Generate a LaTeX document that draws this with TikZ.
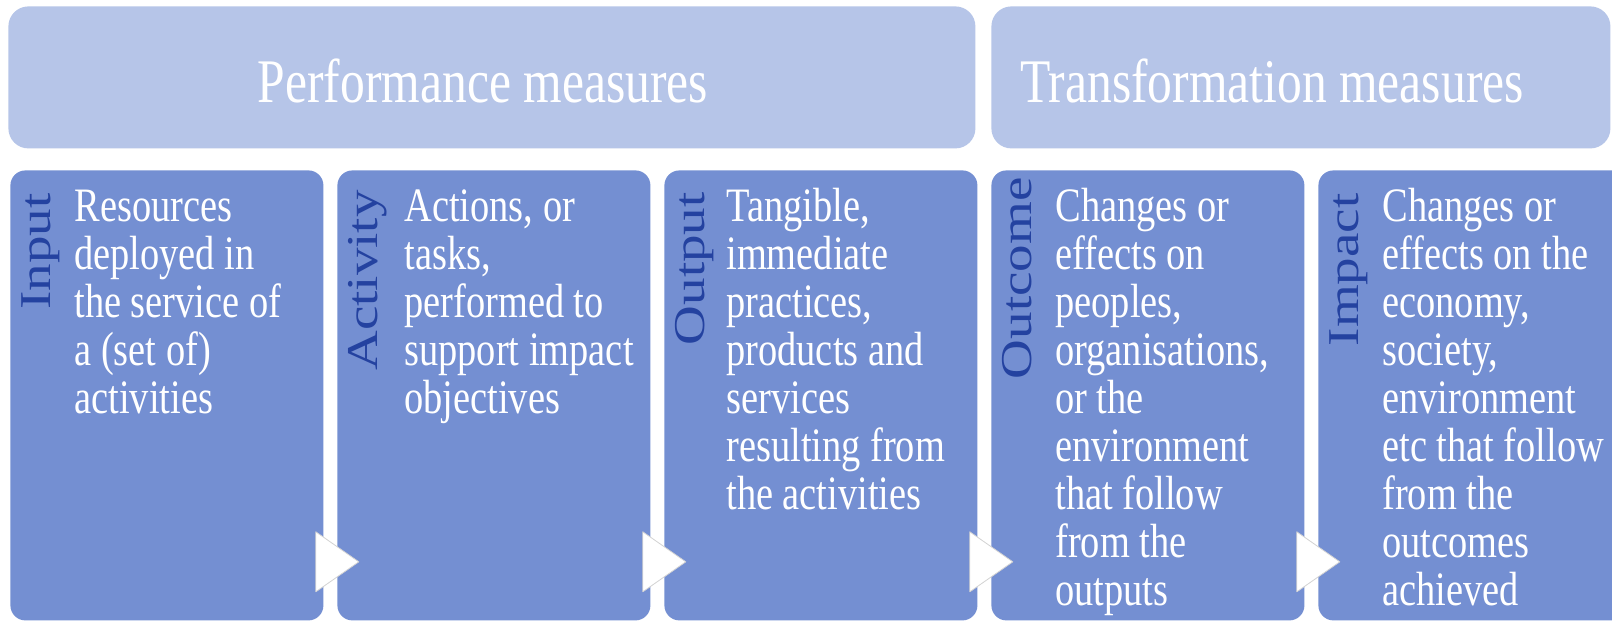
\documentclass[tikz,border=0pt]{standalone}
\usepackage{fontspec}
\setmainfont{Liberation Serif}[FakeStretch=0.8]
\newfontfamily\lblfont{Liberation Serif}
\usetikzlibrary{calc}
\definecolor{hdrfill}{RGB}{182,197,232}
\definecolor{boxfill}{RGB}{116,143,210}
\definecolor{lblblue}{RGB}{36,66,160}
\begin{document}
\begin{tikzpicture}[x=0.5pt,y=-0.5pt,
  hdrbox/.style={fill=hdrfill, rounded corners=10pt, inner sep=0pt, anchor=north west, minimum height=71pt},
  stagebox/.style={fill=boxfill, rounded corners=7.5pt, inner sep=0pt, anchor=north west, minimum width=156.5pt, minimum height=225pt},
  hdrtext/.style={text=white, inner sep=0pt, anchor=base, font=\fontsize{31}{31}\selectfont},
  bodytext/.style={text=white, inner sep=0pt, anchor=base west, font=\fontsize{24}{24}\selectfont},
  lbltext/.style={text=lblblue, inner sep=0pt, rotate=90, anchor=base east, font=\lblfont\fontsize{27.5}{27.5}\selectfont},
  flowtip/.style={fill=white, draw=gray!35, line width=0.4pt, line join=round}
]
\useasboundingbox (0,0) rectangle (1612,623);
\clip (0,0) rectangle (1612,623);
\fill[white] (0,0) rectangle (1612,623);

% header boxes
\node[hdrbox, minimum width=483.5pt] (perf) at (8,6) {};
\node[hdrbox, minimum width=309.5pt] (trans) at (991,6) {};
\node[hdrtext] (perft) at (483,102) {Performance measures};
\node[hdrtext] (transt) at (1272,102) {Transformation measures};

% stage boxes
\node[stagebox] (b1) at (10,170) {};
\node[stagebox] (b2) at (337,170) {};
\node[stagebox] (b3) at (664,170) {};
\node[stagebox] (b4) at (991,170) {};
\node[stagebox] (b5) at (1318,170) {};

% rotated labels
\node[lbltext] (l1) at ($(b1.north west)+(40,23)$) {\scalebox{1}[0.8]{Input}};
\node[lbltext] (l2) at ($(b2.north west)+(40,20)$) {\scalebox{1}[0.8]{Activity}};
\node[lbltext] (l3) at ($(b3.north west)+(40,22)$) {\scalebox{1}[0.8]{Output}};
\node[lbltext] (l4) at ($(b4.north west)+(40,7)$) {\scalebox{1}[0.8]{Outcome}};
\node[lbltext] (l5) at ($(b5.north west)+(40,23)$) {\scalebox{1}[0.8]{Impact}};

% body texts
\node[bodytext] (t1) at ($(b1.north west)+(64,51)$) {\begin{tabular}[t]{@{}l@{}}Resources\\deployed in\\the service of\\a (set of)\\activities\end{tabular}};
\node[bodytext] (t2) at ($(b2.north west)+(67,51)$) {\begin{tabular}[t]{@{}l@{}}Actions, or\\tasks,\\performed to\\support impact\\objectives\end{tabular}};
\node[bodytext] (t3) at ($(b3.north west)+(62,51)$) {\begin{tabular}[t]{@{}l@{}}Tangible,\\immediate\\practices,\\products and\\services\\resulting from\\the activities\end{tabular}};
\node[bodytext] (t4) at ($(b4.north west)+(64,51)$) {\begin{tabular}[t]{@{}l@{}}Changes or\\effects on\\peoples,\\organisations,\\or the\\environment\\that follow\\from the\\outputs\end{tabular}};
\node[bodytext] (t5) at ($(b5.north west)+(64,51)$) {\begin{tabular}[t]{@{}l@{}}Changes or\\effects on the\\economy,\\society,\\environment\\etc that follow\\from the\\outcomes\\achieved\end{tabular}};

% flow triangles
\foreach \b in {b1,b2,b3,b4}{
  \filldraw[flowtip] ($(\b.south east)+(-8,-89)$) -- ($(\b.south east)+(35,-59)$) -- ($(\b.south east)+(-8,-29)$) -- cycle;
}
\end{tikzpicture}
\end{document}
